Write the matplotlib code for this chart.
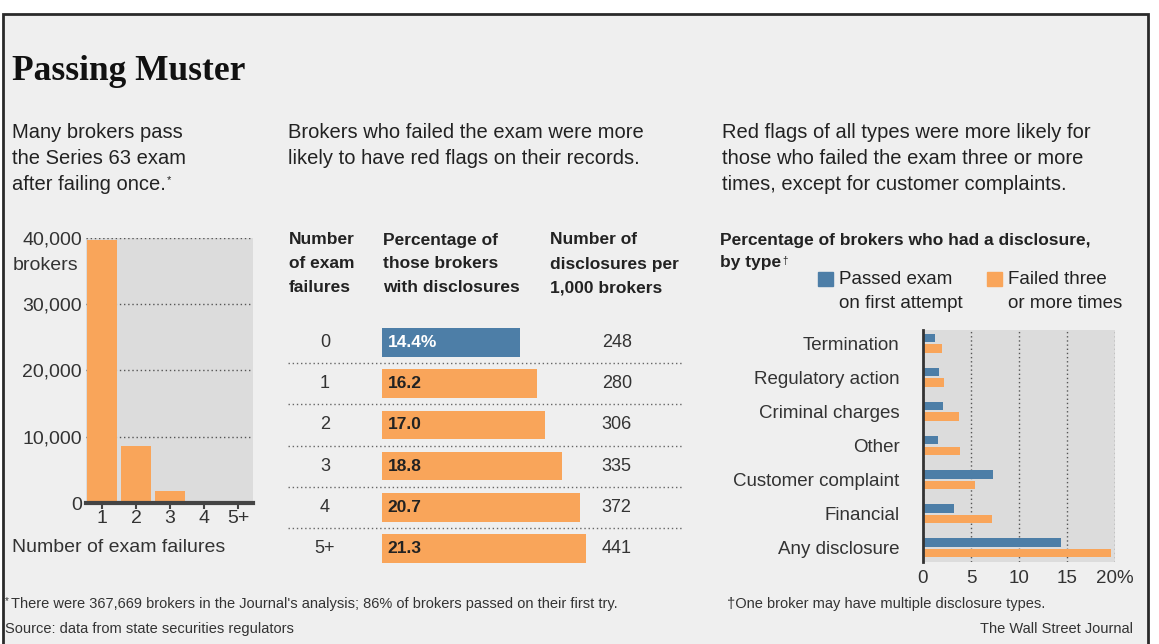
import matplotlib
matplotlib.use("Agg")
import matplotlib.pyplot as plt
from matplotlib.patches import Rectangle
from matplotlib.text import Annotation

# ---------------- data ----------------
fail_labels = ['1', '2', '3', '4', '5+']
brokers = [39700, 8650, 1800, 350, 200]
yticks_left = [0, 10000, 20000, 30000, 40000]
yticklabels_left = ['0', '10,000', '20,000', '30,000', '40,000']

table_rows = ['0', '1', '2', '3', '4', '5+']
pct_disclosures = [14.4, 16.2, 17.0, 18.8, 20.7, 21.3]
per_1000 = [248, 280, 306, 335, 372, 441]

types = ['Termination', 'Regulatory action', 'Criminal charges', 'Other',
         'Customer complaint', 'Financial', 'Any disclosure']
passed_first = [1.2, 1.7, 2.1, 1.6, 7.3, 3.2, 14.4]
failed_three = [2.0, 2.2, 3.8, 3.9, 5.4, 7.2, 19.6]
xticks_right = [0, 5, 10, 15, 20]
xticklabels_right = ['0', '5', '10', '15', '20%']

# ---------------- style ----------------
BLUE = '#4d7ea7'
ORANGE = '#f9a55a'
PANEL = '#dcdcdc'
BG = '#efefef'
TXT = '#222222'
SANS = ['Liberation Sans', 'DejaVu Sans']
plt.rcParams['font.family'] = SANS

W, H = 1159, 644
fig = plt.figure(figsize=(W / 100, H / 100), dpi=100, facecolor='white')


def fx(x):
    return x / W


def fy(y):
    return 1 - y / H


def add_axes(l, t, r, b):
    return fig.add_axes([l / W, 1 - b / H, (r - l) / W, (b - t) / H])


def ftext(x, y, s, **kw):
    kw.setdefault('color', TXT)
    kw.setdefault('va', 'center')
    return fig.text(fx(x), fy(y), s, **kw)


def superscript(anchor, s, size=8):
    fig.add_artist(Annotation(s, xy=(1, 0.95), xycoords=anchor,
                              xytext=(1, 0), textcoords='offset points',
                              size=size, color=TXT, va='top'))


# frame
fig.add_artist(Rectangle((fx(3), fy(660)), (1148 - 3) / W, (660 - 14) / H,
                         transform=fig.transFigure, facecolor=BG,
                         edgecolor='#2a2a2a', lw=2, zorder=0))

# title
ftext(12, 71, 'Passing Muster', family=['Liberation Serif', 'DejaVu Serif'],
      weight='bold', size=25.5, color='#111111')

# subtitles
sub_left = ['Many brokers pass', 'the Series 63 exam', 'after failing once.']
sub_mid = ['Brokers who failed the exam were more',
           'likely to have red flags on their records.']
sub_right = ['Red flags of all types were more likely for',
             'those who failed the exam three or more',
             'times, except for customer complaints.']
line_y = [133, 158, 184]
last = None
for s, y in zip(sub_left, line_y):
    last = ftext(12, y, s, size=14.5)
superscript(last, '*', size=8)
for s, y in zip(sub_mid, line_y):
    ftext(288, y, s, size=14.5)
for s, y in zip(sub_right, line_y):
    ftext(722, y, s, size=14.5)

# ---------------- left chart ----------------
ax1 = add_axes(86, 238, 253, 503)
ax1.set_facecolor(PANEL)
x1 = list(range(len(fail_labels)))
ax1.bar(x1, brokers, width=0.86, color=ORANGE, zorder=3)
ax1.set_xlim(-0.47, 4.44)
ax1.set_ylim(0, 40000)
ax1.set_yticks(yticks_left)
ax1.set_yticklabels(yticklabels_left)
ax1.set_xticks(x1)
ax1.set_xticklabels(fail_labels)
ax1.set_axisbelow(True)
ax1.yaxis.grid(True, linestyle=(0, (1, 2)), color='#555555', lw=1)
for sp in ['top', 'right', 'left']:
    ax1.spines[sp].set_visible(False)
ax1.spines['bottom'].set_linewidth(3)
ax1.spines['bottom'].set_color('#444444')
ax1.spines['bottom'].set_zorder(5)
ax1.tick_params(axis='y', length=0, pad=3, labelsize=14, labelcolor='#333333')
ax1.tick_params(axis='x', length=4, width=1.5, color='#444444', pad=1,
                labelsize=14, labelcolor='#333333')
ftext(12.5, 265, 'brokers', size=14, color='#333333')
ftext(12, 548, 'Number of exam failures', size=14, color='#333333')

# ---------------- middle table ----------------
hdr_cols = [(289, ['Number', 'of exam', 'failures']),
            (383, ['Percentage of', 'those brokers', 'with disclosures']),
            (550, ['Number of', 'disclosures per', '1,000 brokers'])]
for xh, lines in hdr_cols:
    for s, y in zip(lines, [240, 264, 288]):
        ftext(xh, y, s, size=12.5, weight='bold')

ax2 = add_axes(288, 322, 684, 569)
ax2.set_facecolor('none')
rows = list(range(len(table_rows)))
colors = [BLUE] + [ORANGE] * (len(rows) - 1)
ax2.barh(rows, pct_disclosures, height=0.70, color=colors, zorder=3)
ax2.set_xlim(-9.81, 31.52)
ax2.set_ylim(5.5, -0.5)
ax2.axis('off')
for i in rows[:-1]:
    ax2.axhline(i + 0.5, color='#666666', lw=1, linestyle=(0, (1, 2)))
for i, (lab, v, n) in enumerate(zip(table_rows, pct_disclosures, per_1000)):
    ax2.text(-5.95, i, lab, ha='center', va='center', size=13, color='#333333')
    txt = f'{v:.1f}%' if i == 0 else f'{v:.1f}'
    ax2.text(0.6, i, txt, ha='left', va='center', size=12.5, weight='bold',
             color='white' if i == 0 else '#222222', zorder=4)
    ax2.text(24.5, i, str(n), ha='center', va='center', size=13, color='#333333')

# ---------------- right chart ----------------
ftext(720, 240, 'Percentage of brokers who had a disclosure,', size=12.5, weight='bold')
tt = ftext(720, 263, 'by type', size=12.5, weight='bold')
superscript(tt, '\u2020', size=7)
# legend
fig.add_artist(Rectangle((fx(818), fy(286)), 15 / W, 14 / H,
                         transform=fig.transFigure, color=BLUE))
fig.add_artist(Rectangle((fx(987), fy(286)), 15 / W, 14 / H,
                         transform=fig.transFigure, color=ORANGE))
ftext(839, 279, 'Passed exam', size=13.5)
ftext(839, 303, 'on first attempt', size=13.5)
ftext(1008, 279, 'Failed three', size=13.5)
ftext(1008, 303, 'or more times', size=13.5)

ax3 = add_axes(923, 329.5, 1115, 561.5)
ax3.set_facecolor(PANEL)
yr = list(range(len(types)))
ax3.barh([y - 0.155 for y in yr], passed_first, height=0.25, color=BLUE, zorder=3)
ax3.barh([y + 0.155 for y in yr], failed_three, height=0.25, color=ORANGE, zorder=3)
ax3.set_xlim(0, 20)
ax3.set_ylim(6.4, -0.4)
ax3.set_yticks(yr)
ax3.set_yticklabels(types)
ax3.set_xticks(xticks_right)
ax3.set_xticklabels(xticklabels_right)
ax3.set_axisbelow(True)
ax3.xaxis.grid(True, linestyle=(0, (1, 2)), color='#555555', lw=1)
for sp in ['top', 'right', 'bottom']:
    ax3.spines[sp].set_visible(False)
ax3.spines['left'].set_linewidth(2)
ax3.spines['left'].set_color('#333333')
ax3.spines['left'].set_zorder(5)
ax3.tick_params(axis='y', length=0, pad=17, labelsize=13.5, labelcolor='#333333')
ax3.tick_params(axis='x', length=0, pad=6, labelsize=13.5, labelcolor='#333333')

# ---------------- footer ----------------
ftext(5, 601, '*', size=7, color='#333333')
ftext(11, 604, "There were 367,669 brokers in the Journal's analysis; 86% of brokers "
      "passed on their first try.", size=10.5, color='#333333')
ftext(727, 604, '\u2020One broker may have multiple disclosure types.', size=10.5,
      color='#333333')
ftext(5, 629, 'Source: data from state securities regulators', size=10.5, color='#333333')
ftext(1133, 629, 'The Wall Street Journal', size=10.5, color='#333333', ha='right')

fig.savefig('out.png', dpi=100, facecolor='white')
